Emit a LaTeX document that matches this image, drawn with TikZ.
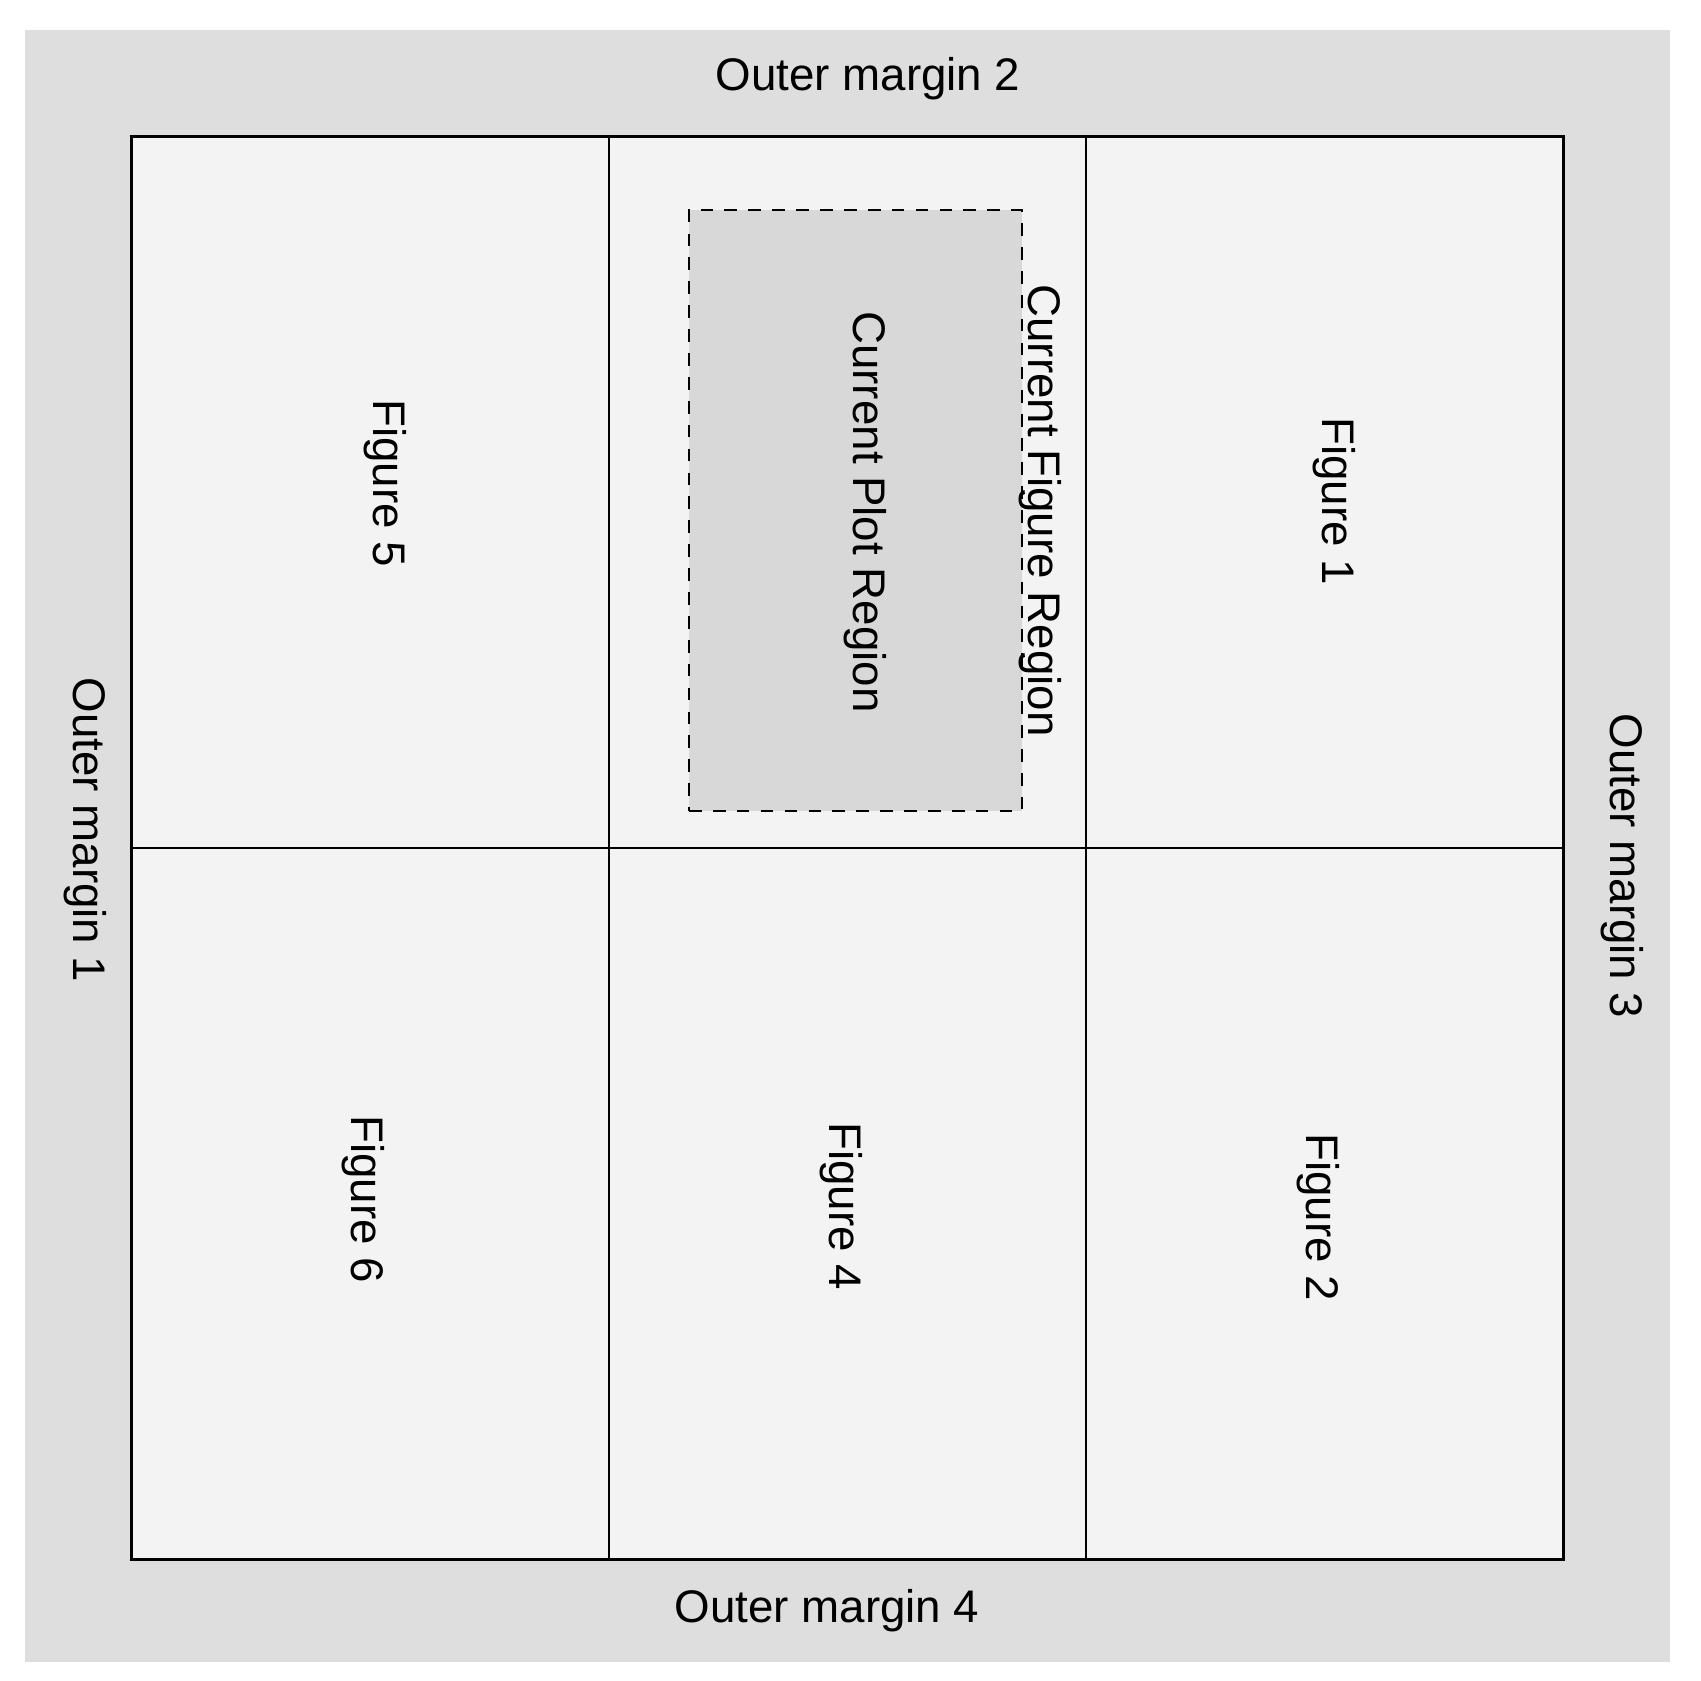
\documentclass[tikz,border=0pt]{standalone}
\usepackage{fontspec}
\setmainfont{Liberation Sans}
\usepackage{xcolor}
\usetikzlibrary{positioning,calc}
\definecolor{cMrgF}{HTML}{DEDEDE}
\definecolor{cPanF}{HTML}{F3F3F3}
\definecolor{cPltF}{HTML}{D8D8D8}

\begin{document}
\begin{tikzpicture}[x=1cm,y=1cm,
  panel/.style={draw,line width=0.5pt,fill=cPanF,minimum width=4.77cm,
    minimum height=7.11cm,inner sep=0pt},
  frame/.style={draw,line width=0.9pt},
  lbl/.style={font=\fontsize{13}{15}\selectfont},
  vlbl/.style={lbl,rotate=-90}]

  \useasboundingbox (0,0) rectangle (17.01,-16.80);
  \fill[cMrgF] (0.25,-0.30) rectangle (16.70,-16.62);

  % figure regions, two rows of three
  \node[panel] (fig5) at (3.705,-4.925) {};
  \node[panel] (fig3) at (8.475,-4.925) {};
  \node[panel] (fig1) at (13.245,-4.925) {};
  \node[panel] (fig6) at (3.705,-12.035) {};
  \node[panel] (fig4) at (8.475,-12.035) {};
  \node[panel] (fig2) at (13.245,-12.035) {};
  \draw[frame] (fig5.north west) rectangle (fig2.south east);

  \node[draw,fill=cPltF,line width=0.75pt,dash pattern=on 3.6pt off 3.2pt,
    minimum width=3.33cm,minimum height=6.01cm,inner sep=0pt] (plot) at (8.555,-5.105) {};

  \node[vlbl] at (8.65,-5.12) {Current Plot Region};
  \node[vlbl,anchor=base] at ([xshift=1.5pt]plot.east) {Current Figure Region};

  \node[vlbl] at (3.85,-4.83) {Figure 5};
  \node[vlbl] at (13.34,-5.01) {Figure 1};
  \node[vlbl] at (3.63,-11.99) {Figure 6};
  \node[vlbl] at (8.41,-12.06) {Figure 4};
  \node[vlbl] at (13.18,-12.17) {Figure 2};

  \node[lbl] at (8.68,-0.79) {Outer margin 2};
  \node[lbl] at (8.27,-16.11) {Outer margin 4};
  \node[vlbl] at (0.85,-8.30) {Outer margin 1};
  \node[vlbl] at (16.22,-8.66) {Outer margin 3};
\end{tikzpicture}
\end{document}
